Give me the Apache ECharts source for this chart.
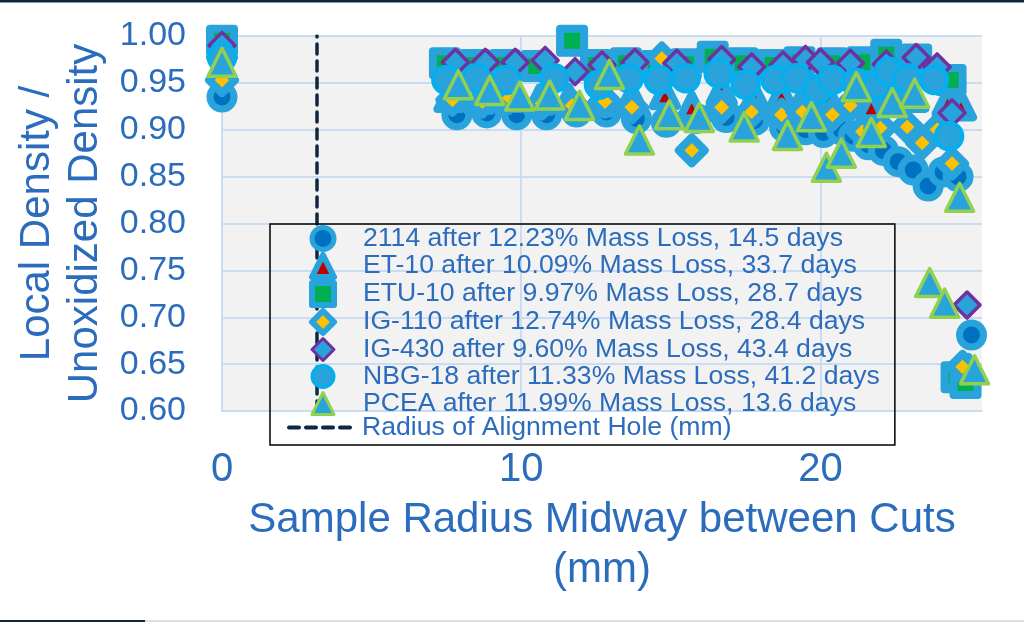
<!DOCTYPE html>
<html><head><meta charset="utf-8">
<script src="https://cdn.jsdelivr.net/npm/echarts@6/dist/echarts.min.js"></script>
<style>html,body{margin:0;padding:0;background:#fff}#c{width:1024px;height:624px}</style>
</head><body><div id="c"></div>
<script>
// ---- data ----
const seriesNames = [
  '2114 after 12.23% Mass Loss, 14.5 days',
  'ET-10 after 10.09% Mass Loss, 33.7 days',
  'ETU-10 after 9.97% Mass Loss, 28.7 days',
  'IG-110 after 12.74% Mass Loss, 28.4 days',
  'IG-430 after 9.60% Mass Loss, 43.4 days',
  'NBG-18 after 11.33% Mass Loss, 41.2 days',
  'PCEA after 11.99% Mass Loss, 13.6 days'
];
const holeName = 'Radius of Alignment Hole (mm)';

const x2114 = [0, 7.85, 8.85, 9.85, 10.85, 11.85, 12.85, 13.85, 14.85, 15.85, 16.85, 17.8, 18.8, 19.5, 20.1, 20.7, 21.1, 21.6, 22.1, 22.6, 23.1, 23.6, 24.1, 24.6, 25.05];
const y2114 = [0.935, 0.916, 0.918, 0.916, 0.916, 0.919, 0.919, 0.912, 0.908, 0.912, 0.913, 0.91, 0.903, 0.9, 0.897, 0.9, 0.893, 0.884, 0.878, 0.866, 0.857, 0.84, 0.855, 0.85, 0.681];

const xET10 = [0, 7.6, 8.6, 9.6, 10.6, 11.6, 12.6, 13.7, 14.8, 15.7, 16.7, 17.8, 18.7, 19.5, 20.2, 21.0, 21.7, 22.4, 23.1, 24.25, 24.7, 24.95];
const yET10 = [0.99, 0.935, 0.933, 0.935, 0.932, 0.933, 0.93, 0.935, 0.938, 0.925, 0.942, 0.935, 0.937, 0.938, 0.938, 0.93, 0.925, 0.942, 0.935, 0.93, 0.926, 0.645];

const xETU10 = [0, 7.45, 8.45, 9.45, 10.5, 11.7, 12.5, 13.5, 14.5, 15.5, 16.4, 17.4, 18.4, 19.3, 20.4, 21.4, 22.2, 23.2, 24.35, 24.55, 24.85];
const yETU10 = [0.995, 0.971, 0.969, 0.969, 0.968, 0.995, 0.969, 0.971, 0.968, 0.97, 0.978, 0.971, 0.969, 0.972, 0.971, 0.972, 0.98, 0.975, 0.953, 0.636, 0.630];

const xIG110 = [0, 7.7, 8.7, 9.6, 10.7, 11.7, 12.8, 13.7, 14.7, 15.7, 16.7, 17.7, 18.7, 19.4, 20.4, 21.0, 21.4, 22.0, 22.9, 23.4, 23.9, 24.4, 24.75];
const yIG110 = [0.953, 0.932, 0.93, 0.934, 0.928, 0.926, 0.93, 0.924, 0.976, 0.878, 0.924, 0.919, 0.916, 0.919, 0.916, 0.926, 0.898, 0.902, 0.903, 0.886, 0.9, 0.864, 0.647];

const xIG430 = [0, 7.8, 8.8, 9.8, 10.8, 11.8, 12.7, 13.8, 15.2, 16.7, 17.7, 18.75, 19.5, 20.0, 21.0, 22.2, 23.2, 23.9, 24.4, 24.9];
const yIG430 = [0.99, 0.972, 0.972, 0.972, 0.974, 0.962, 0.969, 0.972, 0.971, 0.975, 0.967, 0.969, 0.975, 0.972, 0.971, 0.97, 0.977, 0.967, 0.918, 0.713];

const xNBG18 = [0, 7.5, 8.5, 9.5, 11.1, 12.6, 13.6, 14.6, 15.5, 16.6, 17.5, 18.5, 19.2, 19.9, 20.4, 21.2, 21.9, 22.3, 22.9, 23.8, 24.3];
const yNBG18 = [0.977, 0.953, 0.955, 0.953, 0.955, 0.948, 0.955, 0.953, 0.955, 0.96, 0.948, 0.953, 0.955, 0.943, 0.953, 0.95, 0.948, 0.962, 0.955, 0.953, 0.893];

const xPCEA = [0, 7.9, 8.95, 9.95, 10.95, 11.95, 12.95, 13.95, 14.95, 15.95, 17.45, 18.9, 19.7, 20.2, 20.7, 21.2, 21.7, 22.4, 23.15, 23.65, 24.15, 24.65, 25.15];
const yPCEA = [0.972, 0.948, 0.942, 0.936, 0.937, 0.926, 0.959, 0.889, 0.916, 0.913, 0.903, 0.894, 0.914, 0.86, 0.875, 0.946, 0.897, 0.929, 0.939, 0.737, 0.715, 0.828, 0.644];

const holeRadius = [3.175, 3.175];
const holeSpan = [0.60, 1.00];

const xTicks = [0, 10, 20];

// ---- styling ----
const FONT = '"Liberation Sans", Arial, sans-serif';
const TXT = '#2b6cbc';
const GRID = '#c9dcf2';
const BLUE = '#29a3dc';

const styles = [
  {symbol: 'circle',   size: 24, fill: '#0070c0', border: BLUE,      bw: 7,   lbw: 5},
  {symbol: 'triangle', size: 24, fill: '#c00000', border: BLUE,      bw: 8,   lbw: 6},
  {symbol: 'rect',     size: 24, fill: '#00b050', border: BLUE,      bw: 8,   lbw: 6},
  {symbol: 'diamond',  size: 26, fill: '#ffc000', border: BLUE,      bw: 8,   lbw: 6},
  {symbol: 'diamond',  size: 26, fill: BLUE,      border: '#7030a0', bw: 3.5, lbw: 3},
  {symbol: 'circle',   size: 27, fill: BLUE,      border: '#00b0f0', bw: 3.5, lbw: 3},
  {symbol: 'triangle', size: 28, fill: BLUE,      border: '#92d050', bw: 3.5, lbw: 3}
];
const xsAll = [x2114, xET10, xETU10, xIG110, xIG430, xNBG18, xPCEA];
const ysAll = [y2114, yET10, yETU10, yIG110, yIG430, yNBG18, yPCEA];

const series = seriesNames.map((name, i) => ({
  name: name,
  type: 'scatter',
  clip: false,
  symbol: styles[i].symbol,
  symbolSize: styles[i].size,
  symbolKeepAspect: true,
  itemStyle: {color: styles[i].fill, borderColor: styles[i].border, borderWidth: styles[i].bw, borderJoin: 'round', opacity: 1},
  emphasis: {disabled: true},
  data: xsAll[i].map((x, k) => [x, ysAll[i][k]])
}));
series.unshift({
  name: holeName,
  type: 'line',
  symbol: 'none',
  silent: true,
  lineStyle: {color: '#0e2841', width: 3.5, type: [10, 7], cap: 'round'},
  itemStyle: {color: '#0e2841', opacity: 0},
  data: holeRadius.map((x, k) => [x, holeSpan[k]])
});

const legendBase = {
  orient: 'vertical', left: 270,
  itemGap: 0,
  backgroundColor: 'transparent',
  selectedMode: false
};
const legendText = {fontSize: 26.6, lineHeight: 27, color: TXT, fontFamily: FONT};

const chart = echarts.init(document.getElementById('c'), null, {renderer: 'canvas'});
chart.setOption({
  animation: false,
  backgroundColor: '#ffffff',
  textStyle: {fontFamily: FONT},
  grid: {left: 222, right: 42, top: 36, bottom: 213, show: true, backgroundColor: '#f2f2f2', borderWidth: 0},
  xAxis: {
    type: 'value', min: 0, max: 25.4, interval: 10,
    axisLine: {show: true, lineStyle: {color: GRID, width: 2}},
    axisTick: {show: false},
    splitLine: {show: true, showMaxLine: false, lineStyle: {color: GRID, width: 2}},
    axisLabel: {fontSize: 40, color: TXT, fontFamily: FONT, margin: 39, showMaxLabel: false,
      formatter: v => (xTicks.indexOf(v) >= 0 ? String(v) : '')},
    name: 'Sample Radius Midway between Cuts\n(mm)',
    nameLocation: 'middle', nameGap: 84,
    nameTextStyle: {fontSize: 42, lineHeight: 50, color: TXT, fontFamily: FONT}
  },
  yAxis: {
    type: 'value', min: 0.6, max: 1.0, interval: 0.05,
    axisLine: {show: true, lineStyle: {color: GRID, width: 2}},
    axisTick: {show: false},
    splitLine: {show: true, lineStyle: {color: GRID, width: 2}},
    axisLabel: {fontSize: 34, color: TXT, fontFamily: FONT, margin: 36, formatter: v => v.toFixed(2)},
    name: 'Local Density /\nUnoxidized Density',
    nameLocation: 'middle', nameGap: 112, nameRotate: 90,
    nameTextStyle: {fontSize: 42, lineHeight: 48, color: TXT, fontFamily: FONT}
  },
  legend: [
    Object.assign({}, legendBase, {
      top: 224,
      padding: [1, 15, 28, 39],
      itemWidth: 22, itemHeight: 22,
      symbolKeepAspect: true,
      borderColor: '#000000', borderWidth: 1.5,
      textStyle: Object.assign({}, legendText, {padding: [0, 0, 0, 24]}),
      data: seriesNames.map((n, i) => ({name: n, icon: styles[i].symbol, itemStyle: {borderWidth: styles[i].lbw}}))
    }),
    Object.assign({}, legendBase, {
      top: 414,
      padding: [0, 0, 0, 17],
      itemWidth: 68, itemHeight: 22,
      borderWidth: 0,
      textStyle: legendText,
      data: [{name: holeName, itemStyle: {opacity: 0}, lineStyle: {width: 4}}]
    })
  ],
  graphic: [
    {type: 'rect', left: 0, top: 0, shape: {width: 1024, height: 2.5}, style: {fill: '#0e2841'}, silent: true},
    {type: 'rect', left: 0, top: 620, shape: {width: 145, height: 2}, style: {fill: '#0e2841'}, silent: true},
    {type: 'rect', left: 145, top: 620.5, shape: {width: 879, height: 1}, style: {fill: '#bfbfbf'}, silent: true}
  ],
  series: series
});
</script>
</body></html>
